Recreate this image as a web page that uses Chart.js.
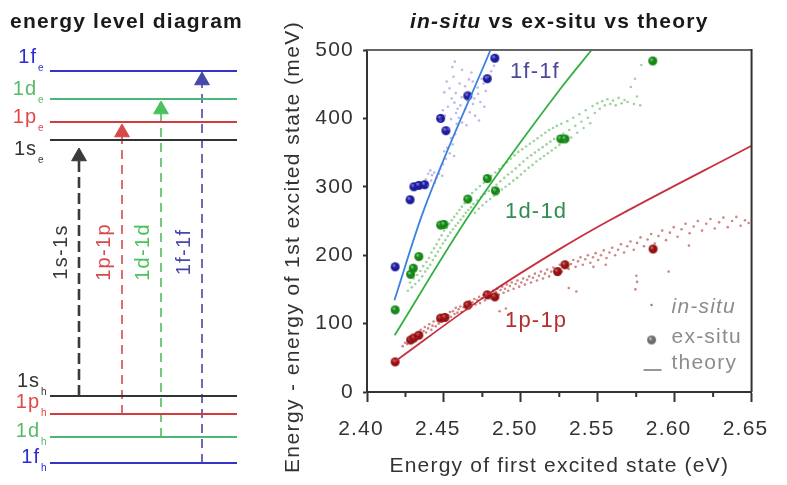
<!DOCTYPE html>
<html>
<head>
<meta charset="utf-8">
<script src="https://cdn.jsdelivr.net/npm/chart.js@4.4.1/dist/chart.umd.min.js"></script>
<style>
  body { margin: 0; background: #fff; }
  #wrap { position: relative; width: 787px; height: 485px; overflow: hidden; font-family: "Liberation Sans", Arial, sans-serif; }
  canvas { position: absolute; top: 0; }
  .head { position: absolute; top: 10px; font-weight: bold; font-size: 21px; line-height: 21px; letter-spacing: 1.2px; color: #1a1a1a; white-space: nowrap; }
</style>
</head>
<body>
<div id="wrap">
  <canvas id="levels" width="270" height="485" style="left:0"></canvas>
  <canvas id="scatter" width="517" height="485" style="left:270px"></canvas>
  <div class="head" style="left:10px">energy level diagram</div>
  <div class="head" style="left:410px"><i>in-situ</i> vs ex-situ vs theory</div>
</div>
<script>
// ---------- energy level diagram (schematic units) ----------
const levelNames = ['1s', '1p', '1d', '1f']
const electronLevels = [345, 363, 386, 414]
const holeLevels = [89, 71, 48, 22]
const transitionX = [79, 122, 161, 202]
const arrowTips = [337, 361, 384, 413]
const levelSpan = [50, 237]

// ---------- in-situ vs ex-situ vs theory ----------
const blueExsitu = [[2.4183,183],[2.4280,281],[2.4305,300],[2.4337,302],[2.4375,303],[2.4479,400],[2.4513,382],[2.4655,433],[2.4782,458],[2.4831,488]]
const greenExsitu = [[2.4183,120],[2.4284,172],[2.4301,181],[2.4337,198],[2.4479,244],[2.4500,245],[2.4655,282],[2.4782,312],[2.4835,294],[2.5260,370],[2.5287,370],[2.5858,484]]
const redExsitu = [[2.4183,44],[2.4284,76],[2.4305,79],[2.4337,83],[2.4479,108],[2.4507,109],[2.4655,127],[2.4782,142],[2.4831,139],[2.5239,176],[2.5287,186],[2.5860,209]]

const blueTheory = [[2.4178,134],[2.4358,259],[2.4803,500]]
const greenTheory = [[2.418,83],[2.4666,259],[2.526,444],[2.546,500]]
const redTheory = [[2.4178,44],[2.4782,142],[2.526,210],[2.5578,251],[2.65,360]]

const blueInsitu = [[2.4382,311],[2.4398,319],[2.4411,324],[2.4423,317],[2.4437,321],[2.4452,313],[2.4468,319],[2.4489,316],[2.4441,306],[2.4396,302],[2.4417,309],[2.4476,326],
  [2.4493,333],[2.4512,341],[2.4538,349],[2.4521,357],[2.4557,362],[2.4546,371],[2.4573,377],[2.4529,384],[2.4502,352],[2.4566,345],[2.4583,392],
  [2.4478,397],[2.4507,404],[2.4546,399],[2.4579,408],[2.4597,401],[2.4618,394],[2.4647,390],[2.4526,417],[2.4568,423],[2.4607,419],[2.4639,414],[2.4668,409],[2.4703,404],[2.4728,397],[2.4589,414],[2.4493,412],[2.4651,426],
  [2.4503,438],[2.4537,444],[2.4577,437],[2.4616,431],[2.4657,439],[2.4698,429],[2.4737,424],[2.4763,417],[2.4551,429],[2.4689,421],[2.4722,436],
  [2.4518,454],[2.4562,461],[2.4602,451],[2.4638,447],[2.4687,454],[2.4719,445],[2.4758,451],[2.4788,461],[2.4807,469],[2.4555,475],[2.4571,483],[2.4618,471],[2.4679,467],[2.4826,477],[2.4772,440],[2.4745,458],[2.4663,457]]

const greenInsitu = [[2.4266,148],[2.4279,160],[2.4291,153],[2.4303,166],[2.4314,158],[2.4326,171],[2.4338,163],[2.4347,177],[2.4359,169],[2.4365,184],[2.4378,176],[2.4386,190],[2.4394,181],[2.4403,196],
  [2.4411,186],[2.4419,204],[2.4428,193],[2.4436,210],[2.4445,199],[2.4452,216],[2.4461,205],[2.4469,223],[2.4477,211],[2.4485,229],[2.4493,217],[2.4501,236],[2.4509,222],[2.4518,240],
  [2.4526,228],[2.4534,246],[2.4542,233],[2.4551,251],[2.4559,238],[2.4567,256],[2.4576,243],[2.4584,261],[2.4592,247],[2.4601,266],[2.4609,252],[2.4617,271],[2.4626,257],[2.4634,276],
  [2.4642,262],[2.4651,281],[2.4659,266],[2.4667,286],[2.4676,270],[2.4684,291],[2.4692,275],[2.4701,262],[2.4709,296],[2.4717,280],[2.4726,268],[2.4734,301],[2.4742,285],[2.4751,273],
  [2.4759,306],[2.4767,290],[2.4776,278],[2.4784,311],[2.4792,294],[2.4801,282],[2.4809,316],[2.4817,299],[2.4826,287],[2.4834,321],[2.4842,303],[2.4851,291],[2.4859,326],[2.4867,308],
  [2.4876,296],[2.4884,331],[2.4892,313],[2.4901,300],[2.4909,336],[2.4917,318],[2.4926,304],[2.4934,341],[2.4942,322],[2.4951,309],[2.4959,346],[2.4967,327],[2.4976,313],[2.4984,351],
  [2.4992,332],[2.5001,318],[2.5009,355],[2.5017,337],[2.5026,323],[2.5034,359],[2.5042,342],[2.5051,328],[2.5059,363],[2.5067,346],[2.5076,332],[2.5084,367],[2.5092,350],[2.5101,337],
  [2.5109,371],[2.5117,354],[2.5126,341],[2.5134,375],[2.5142,358],[2.5151,345],[2.5159,379],[2.5167,362],[2.5176,349],[2.5184,383],[2.5192,366],[2.5201,353],[2.5209,386],[2.5217,370],
  [2.5226,357],[2.5234,389],[2.5242,374],[2.5251,361],[2.5263,392],[2.5276,378],[2.5289,366],[2.5302,396],[2.5315,383],[2.5328,372],[2.5341,401],[2.5354,389],[2.5367,379],[2.5381,406],
  [2.5394,395],[2.5408,386],[2.5422,412],[2.5436,401],[2.5451,393],[2.5466,418],[2.5481,408],[2.5497,422],[2.5513,414],[2.5529,425],[2.5546,419],[2.5563,428],[2.5581,421],[2.5599,426],
  [2.5617,419],[2.5636,430],[2.5655,422],[2.5674,427],[2.5694,424],[2.5715,446],[2.5736,421],[2.5755,432],[2.5776,419],[2.5783,478],[2.5742,458]]

const redInsitu = [[2.4232,67],[2.4248,72],[2.4261,70],[2.4274,78],[2.4286,74],[2.4293,82],[2.4305,77],[2.4317,85],[2.4322,79],[2.4338,86],[2.4349,91],[2.4353,82],[2.4368,89],[2.4376,95],
  [2.4384,87],[2.4397,93],[2.4405,99],[2.4418,91],[2.4426,97],[2.4433,103],[2.4447,96],[2.4458,104],[2.4466,100],[2.4474,110],[2.4489,103],[2.4497,109],[2.4506,114],[2.4518,106],
  [2.4527,112],[2.4539,117],[2.4546,110],[2.4558,118],[2.4569,114],[2.4577,123],[2.4588,116],[2.4596,121],[2.4607,125],[2.4615,117],[2.4628,124],[2.4637,129],[2.4649,121],[2.4656,127],
  [2.4668,133],[2.4677,125],[2.4685,131],[2.4698,136],[2.4706,128],[2.4717,134],[2.4729,139],[2.4735,130],[2.4748,137],[2.4756,142],[2.4767,134],[2.4778,140],[2.4786,145],[2.4798,137],
  [2.4807,143],[2.4819,148],[2.4826,139],[2.4838,146],[2.4847,151],[2.4856,142],[2.4868,149],[2.4879,154],[2.4888,145],[2.4897,151],[2.4909,157],[2.4918,148],[2.4929,155],[2.4941,160],
  [2.4953,151],[2.4966,158],[2.4978,163],[2.4989,154],[2.5003,160],[2.5015,166],[2.5027,157],[2.5041,164],[2.5054,169],[2.5066,160],[2.5079,167],[2.5092,173],[2.5105,163],[2.5118,170],
  [2.5131,176],[2.5144,166],[2.5157,173],[2.5171,179],[2.5184,169],[2.5198,176],[2.5212,182],[2.5225,172],[2.5239,179],[2.5253,186],[2.5268,176],[2.5282,183],[2.5297,189],[2.5311,180],
  [2.5326,187],[2.5341,193],[2.5356,183],[2.5372,191],[2.5388,197],[2.5403,186],[2.5419,194],[2.5436,200],[2.5452,189],[2.5469,197],[2.5486,203],[2.5503,193],[2.5521,200],[2.5539,207],
  [2.5557,196],[2.5576,204],[2.5594,211],[2.5613,200],[2.5632,208],[2.5651,216],[2.5671,204],[2.5692,213],[2.5713,220],[2.5734,208],[2.5756,218],[2.5778,226],[2.5801,213],[2.5824,223],
  [2.5847,231],[2.5871,217],[2.5895,228],[2.5919,236],[2.5944,222],[2.5969,233],[2.5994,241],[2.6019,227],[2.6045,238],[2.6071,246],[2.6097,232],[2.6124,242],[2.6151,250],[2.6178,236],
  [2.6205,246],[2.6233,253],[2.6261,239],[2.6289,248],[2.6317,255],[2.6345,241],[2.6373,250],[2.6401,256],[2.6429,243],[2.6457,251],[2.6481,247],
  [2.4862,118],[2.4903,122],[2.4921,113],[2.5312,152],[2.5361,147],[2.5756,161],[2.5751,170],[2.5745,150],[2.5961,176],[2.5552,186],[2.6093,214],[2.5472,183]]

const xMinorTicks = [2.425, 2.475, 2.525, 2.575, 2.625]

Chart.defaults.font.family = '"Liberation Sans", Arial, sans-serif'
Chart.defaults.font.size = 21
Chart.defaults.color = '#333'

const pts = (arr) => arr.map(([x, y]) => ({ x, y }))

// shaded sphere used for the ex-situ markers
const ball = (dark, light, r) => {
  const c = document.createElement('canvas')
  const s = Math.ceil(r * 2 + 2)
  c.width = c.height = s
  const g = c.getContext('2d')
  const grad = g.createRadialGradient(s / 2 - r * 0.35, s / 2 - r * 0.4, r * 0.05, s / 2, s / 2, r)
  grad.addColorStop(0, light)
  grad.addColorStop(0.45, dark)
  grad.addColorStop(1, dark)
  g.fillStyle = grad
  g.beginPath()
  g.arc(s / 2, s / 2, r, 0, Math.PI * 2)
  g.fill()
  return c
}

/* ---------------- left panel ---------------- */
const levelColors = ['#333333', '#d23c3c', '#4cb878', '#3434c8']
const labelColors = ['#333333', '#e04848', '#55bb66', '#2a2ad8']
const arrowColors = ['#3a3a3a', '#d84a4a', '#4cc05c', '#4848a8']
const HEAD = 8.5

const levelSets = []
levelNames.forEach((name, i) => {
  levelSets.push({
    data: pts([[transitionX[i], holeLevels[i]], [transitionX[i], arrowTips[i] - HEAD]]),
    showLine: true,
    borderColor: arrowColors[i],
    borderWidth: i === 0 ? 2.6 : 1.6,
    borderDash: i === 0 ? [11, 5] : [9, 6],
    pointRadius: [0, HEAD],
    pointStyle: 'triangle',
    pointBackgroundColor: arrowColors[i],
    pointBorderColor: arrowColors[i],
    pointBorderWidth: 1
  })
  ;[electronLevels[i], holeLevels[i]].forEach(lv => {
    levelSets.push({
      data: pts([[levelSpan[0], lv], [levelSpan[1], lv]]),
      showLine: true,
      borderColor: levelColors[i],
      borderWidth: 2,
      pointRadius: 0
    })
  })
})

const levelText = {
  id: 'levelText',
  afterDatasetsDraw(chart) {
    const { ctx, scales: { x, y } } = chart
    const eShift = [15, 1, -4, -8]
    const hShift = [-9, -6, 0, 0]
    ctx.save()
    ctx.letterSpacing = '1px'
    levelNames.forEach((name, i) => {
      ctx.fillStyle = labelColors[i]
      ;[[electronLevels[i], eShift[i], 'e', 37], [holeLevels[i], hShift[i], 'h', 40]].forEach(([lv, dy, sub, right]) => {
        const px = x.getPixelForValue(right)
        const py = y.getPixelForValue(lv) + dy
        ctx.font = '20px "Liberation Sans", Arial, sans-serif'
        ctx.textAlign = 'right'
        ctx.textBaseline = 'alphabetic'
        ctx.fillText(name, px, py)
        ctx.font = '10px "Liberation Sans", Arial, sans-serif'
        ctx.textAlign = 'left'
        ctx.fillText(sub, px + 1, py + 8)
      })
      // transition label, rotated
      ctx.save()
      ctx.translate(x.getPixelForValue(transitionX[i] - 18), y.getPixelForValue(233))
      ctx.rotate(-Math.PI / 2)
      ctx.font = '20px "Liberation Sans", Arial, sans-serif'
      ctx.letterSpacing = '1.3px'
      ctx.fillStyle = arrowColors[i]
      ctx.textAlign = 'center'
      ctx.textBaseline = 'middle'
      ctx.fillText(name + '-' + name, 0, 0)
      ctx.restore()
    })
    ctx.restore()
  }
}

new Chart(document.getElementById('levels'), {
  type: 'scatter',
  data: { datasets: levelSets },
  options: {
    responsive: false,
    animation: false,
    events: [],
    layout: { padding: 0, autoPadding: false },
    plugins: { legend: { display: false }, tooltip: { enabled: false } },
    scales: {
      x: { display: false, min: 0, max: 270 },
      y: { display: false, min: 0, max: 485 }
    }
  },
  plugins: [levelText]
})

/* ---------------- right panel ---------------- */
const insitu = (arr, color) => ({ data: pts(arr), pointRadius: 1.3, pointBorderWidth: 0, pointBackgroundColor: color })
const theory = (arr, color) => ({ data: pts(arr), showLine: true, borderColor: color, borderWidth: 1.8, pointRadius: 0, cubicInterpolationMode: 'monotone' })
const exsitu = (arr, img) => ({ data: pts(arr), pointStyle: img, pointRadius: 4.5 })

const boxAndTicks = {
  id: 'boxAndTicks',
  beforeDraw(chart) { chart.ctx.letterSpacing = '1.2px' },
  afterDraw(chart) {
    const { ctx, chartArea: a, scales: { x } } = chart
    ctx.save()
    ctx.lineWidth = 2
    ctx.strokeStyle = '#666'
    ctx.beginPath(); ctx.moveTo(a.left, a.top); ctx.lineTo(a.right, a.top); ctx.stroke()
    ctx.strokeStyle = '#333'
    ctx.beginPath(); ctx.moveTo(a.right, a.top - 1); ctx.lineTo(a.right, a.bottom); ctx.stroke()
    xMinorTicks.forEach(v => {
      const px = x.getPixelForValue(v)
      ctx.beginPath(); ctx.moveTo(px, a.bottom); ctx.lineTo(px, a.bottom + 5); ctx.stroke()
    })
    // y axis title
    ctx.translate(a.left - 74, (a.top + a.bottom) / 2 + 26)
    ctx.rotate(-Math.PI / 2)
    ctx.font = '21px "Liberation Sans", Arial, sans-serif'
    ctx.letterSpacing = '1.4px'
    ctx.fillStyle = '#333'
    ctx.textAlign = 'center'
    ctx.textBaseline = 'middle'
    ctx.fillText('Energy - energy of 1st excited state (meV)', 0, 0)
    ctx.restore()
  }
}

const inPlotText = {
  id: 'inPlotText',
  afterDatasetsDraw(chart) {
    const { ctx, chartArea: a, scales: { x, y } } = chart
    ctx.save()
    ctx.letterSpacing = '1.2px'
    ctx.font = '22px "Liberation Sans", Arial, sans-serif'
    ctx.textBaseline = 'alphabetic'
    ctx.textAlign = 'left'
    ctx.fillStyle = '#4a4a9a'
    ctx.fillText('1f-1f', x.getPixelForValue(2.4929), y.getPixelForValue(459))
    ctx.fillStyle = '#2f8f4f'
    ctx.fillText('1d-1d', x.getPixelForValue(2.4897), y.getPixelForValue(254))
    ctx.fillStyle = '#b43030'
    ctx.fillText('1p-1p', x.getPixelForValue(2.4897), y.getPixelForValue(95))

    // legend
    const lx = a.right - 80
    ctx.fillStyle = '#8c8c8c'
    ctx.font = 'italic 21px "Liberation Sans", Arial, sans-serif'
    ctx.fillText('in-situ', lx, a.bottom - 79)
    ctx.font = '21px "Liberation Sans", Arial, sans-serif'
    ctx.fillText('ex-situ', lx, a.bottom - 49)
    ctx.fillText('theory', lx, a.bottom - 23)
    ctx.beginPath(); ctx.arc(a.right - 100, a.bottom - 87, 1.3, 0, Math.PI * 2); ctx.fill()
    const g = ball('#6e6e6e', '#d0d0d0', 4.5)
    ctx.drawImage(g, a.right - 100 - g.width / 2, a.bottom - 52 - g.height / 2)
    ctx.strokeStyle = '#8c8c8c'
    ctx.lineWidth = 1.8
    ctx.beginPath(); ctx.moveTo(a.right - 108, a.bottom - 22); ctx.lineTo(a.right - 90, a.bottom - 22); ctx.stroke()
    ctx.restore()
  }
}

new Chart(document.getElementById('scatter'), {
  type: 'scatter',
  data: {
    datasets: [
      insitu(blueInsitu, 'rgba(120,120,210,0.5)'),
      insitu(greenInsitu, 'rgba(60,170,60,0.5)'),
      insitu(redInsitu, 'rgba(165,35,35,0.55)'),
      theory(blueTheory, '#3b82e0'),
      theory(greenTheory, '#33b044'),
      theory(redTheory, '#c83040'),
      exsitu(blueExsitu, ball('#1c1c9c', '#8a8ae8', 4.5)),
      exsitu(greenExsitu, ball('#178517', '#80d880', 4.5)),
      exsitu(redExsitu, ball('#921010', '#e07a7a', 4.5))
    ]
  },
  options: {
    responsive: false,
    animation: false,
    events: [],
    layout: { padding: { top: 50, right: 27, left: 0, bottom: 0 }, autoPadding: false },
    plugins: { legend: { display: false }, tooltip: { enabled: false } },
    scales: {
      x: {
        min: 2.40, max: 2.65,
        afterFit: (s) => { s.height = 93 },
        ticks: { stepSize: 0.05, padding: 15, labelOffset: -6, color: '#333', callback: (v) => Number(v).toFixed(2) },
        grid: { drawOnChartArea: false, tickLength: 10, tickWidth: 2, color: '#333' },
        border: { color: '#333', width: 2 },
        title: { display: true, text: 'Energy of first excited state (eV)', color: '#333', padding: { top: 0, bottom: 6 }, font: { size: 21 } }
      },
      y: {
        min: 0, max: 500,
        afterFit: (s) => { s.width = 97 },
        ticks: { stepSize: 100, padding: 9, color: '#333' },
        grid: { drawOnChartArea: false, tickLength: 4, tickWidth: 2, color: '#333' },
        border: { color: '#333', width: 2 }
      }
    }
  },
  plugins: [boxAndTicks, inPlotText]
})
</script>
</body>
</html>
